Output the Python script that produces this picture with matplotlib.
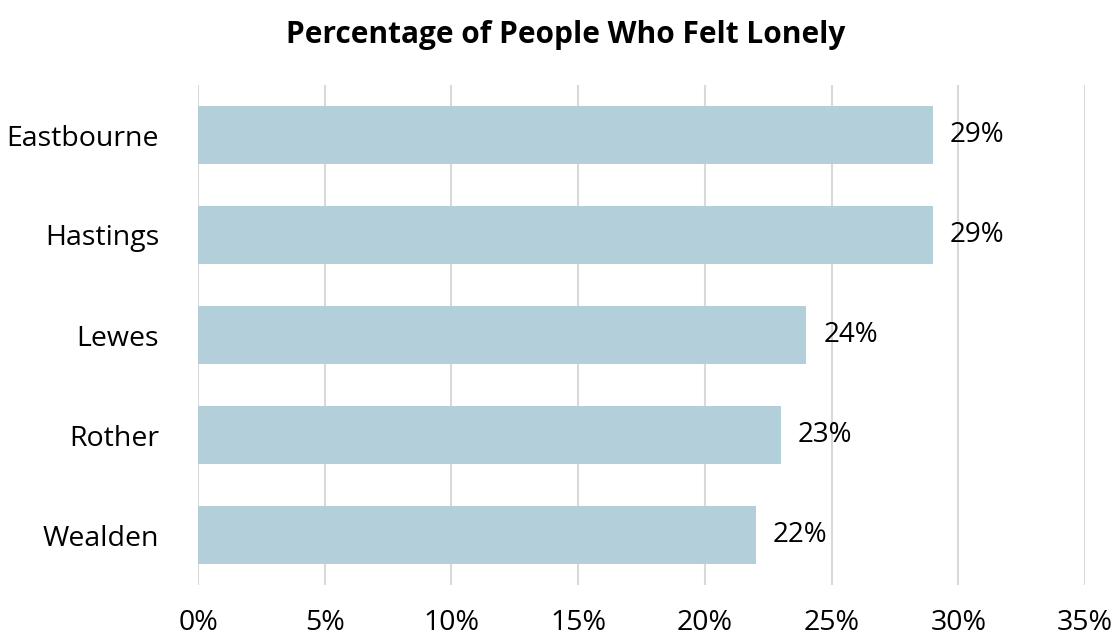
import matplotlib
matplotlib.use("Agg")
import matplotlib.pyplot as plt
from matplotlib.ticker import FuncFormatter

categories = ["Eastbourne", "Hastings", "Lewes", "Rother", "Wealden"]
values = [29, 29, 24, 23, 22]
xticks = [0, 5, 10, 15, 20, 25, 30, 35]
title = "Percentage of People Who Felt Lonely"

plt.rcParams['font.family'] = ['Open Sans', 'DejaVu Sans']

fig = plt.figure(figsize=(11.12, 6.37), dpi=100)
ax = fig.add_axes([198/1112, 52/637, (1085-198)/1112, 500/637])

ypos = list(range(len(categories)))
ax.barh(ypos, values, height=0.58, color="#b3cfda", zorder=2)
ax.set_ylim(len(categories) - 0.5, -0.5)
ax.set_xlim(0, 35)
ax.set_xticks(xticks)
ax.xaxis.set_major_formatter(FuncFormatter(lambda v, p: f"{v:.0f}%"))
ax.set_yticks(ypos)
ax.set_yticklabels(categories)
ax.grid(axis="x", color="#d9d9d9", linewidth=1.5, zorder=0)
for s in ax.spines.values():
    s.set_visible(False)
ax.tick_params(axis="both", length=0, labelsize=20.5, labelcolor="black")
ax.tick_params(axis="y", pad=28)
ax.tick_params(axis="x", pad=17)

for y, v in zip(ypos, values):
    ax.annotate(f"{v}%", xy=(v, y), xytext=(17, 0), textcoords="offset pixels",
                va="center", ha="left", fontsize=20, color="black")

fig.text(0.509, 1 - 35/637, title, ha="center", va="center", fontsize=21.5, fontweight="bold")

fig.savefig("out.png", dpi=100)
